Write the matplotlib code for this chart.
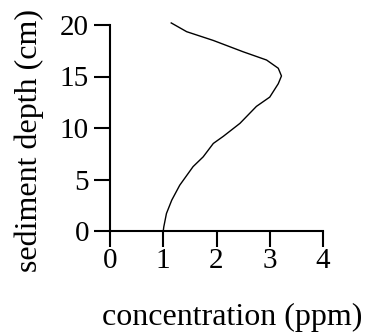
import matplotlib
matplotlib.use('Agg')
import matplotlib.pyplot as plt

# concentration profile (top to bottom)
concentration = [1.15, 1.44, 1.94, 2.50, 2.94, 3.16, 3.22, 3.16, 3.00, 2.75,
                 2.44, 2.13, 1.94, 1.75, 1.56, 1.31, 1.16, 1.06, 1.01, 1.00]
depth = [20.2, 19.35, 18.5, 17.4, 16.6, 15.8, 15.05, 14.3, 13.0, 12.1,
         10.45, 9.2, 8.5, 7.2, 6.25, 4.45, 3.0, 1.7, 0.4, 0.0]

x_ticks = [0, 1, 2, 3, 4]
y_ticks = [0, 5, 10, 15, 20]

plt.rcParams['font.family'] = ['Liberation Serif', 'DejaVu Serif']

fig = plt.figure(figsize=(3.67, 3.35), dpi=100)
ax = fig.add_axes([110/367, 1 - 231/335, 213/367, 206/335])

ax.plot(concentration, depth, color='black', linewidth=1.0, clip_on=False)

ax.set_xlim(0, 4)
ax.set_ylim(0, 20)
ax.set_xticks(x_ticks)
ax.set_yticks(y_ticks)

# only the left and bottom axes, with long ticks sticking out
ax.spines['top'].set_visible(False)
ax.spines['right'].set_visible(False)
for s in ['left', 'bottom']:
    ax.spines[s].set_linewidth(1.5)
ax.tick_params(axis='both', direction='out', length=11.5, width=1.5, labelsize=21)
ax.tick_params(axis='x', pad=0.5)
ax.tick_params(axis='y', pad=3.6)

ax.set_xlabel('concentration (ppm)', fontsize=23)
ax.set_ylabel('sediment depth (cm)', fontsize=23)
ax.xaxis.set_label_coords(0.573, -0.35)
ax.yaxis.set_label_coords(-0.31, 0.437)

fig.savefig('out.png', dpi=100)
